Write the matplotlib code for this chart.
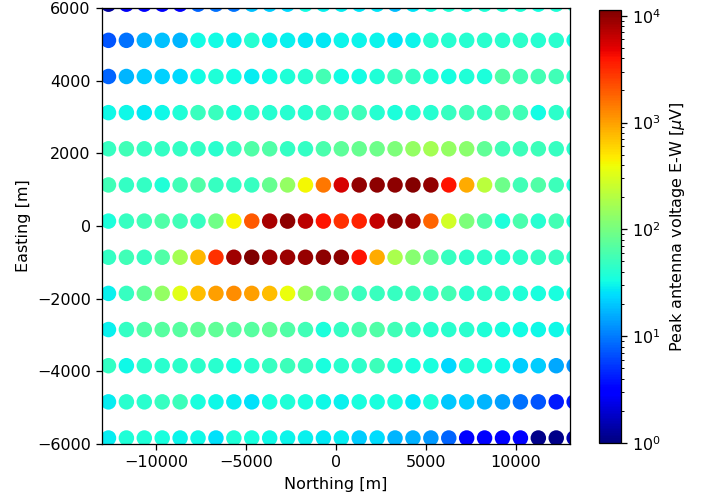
import numpy as np
import matplotlib
matplotlib.use("Agg")
import matplotlib.pyplot as plt
from matplotlib.colors import LogNorm

# Grid coordinates (m)
northing = [-12640 + 995 * k for k in range(27)]
easting = [-5835 + 995 * r for r in range(13)]

# Peak voltages [uV], one list per easting row (bottom to top)
row_m5835 = [28, 38, 38, 35, 30, 31, 25, 38, 35, 31, 30, 29, 27, 28, 21, 24, 17, 16, 13, 8, 3.3, 2.8, 2.8, 3, 1.1, 1.1, 1.5]
row_m4840 = [28, 42, 42, 48, 52, 35, 31, 28, 25, 35, 38, 35, 31, 29, 35, 35, 35, 26, 38, 20, 21, 17, 14, 9, 7, 4, 4]
row_m3845 = [46, 31, 42, 42, 44, 44, 42, 35, 42, 48, 52, 48, 35, 42, 44, 52, 38, 35, 35, 23, 38, 35, 31, 21, 21, 15, 12]
row_m2850 = [29, 46, 64, 70, 70, 78, 78, 70, 70, 78, 64, 54, 36, 47, 60, 64, 54, 46, 42, 42, 42, 38, 35, 33, 31, 31, 31]
row_m1855 = [29, 48, 78, 140, 330, 750, 1000, 1200, 1000, 750, 380, 140, 85, 78, 50, 50, 48, 52, 46, 57, 42, 44, 42, 38, 35, 35, 35]
row_m860 = [46, 54, 48, 64, 170, 800, 3000, 8500, 11000, 9000, 9000, 9200, 10000, 9800, 4000, 900, 180, 120, 78, 48, 44, 44, 40, 44, 46, 48, 42]
row_135 = [36, 48, 54, 64, 54, 48, 95, 430, 2000, 8000, 10000, 7000, 4000, 3000, 3500, 6500, 10000, 9000, 1800, 280, 110, 64, 36, 60, 40, 57, 36]
row_1130 = [54, 46, 46, 38, 54, 64, 48, 46, 48, 85, 140, 420, 1500, 5500, 9500, 10000, 10000, 10800, 9500, 4000, 900, 220, 90, 54, 64, 52, 36]
row_2125 = [48, 55, 48, 46, 46, 46, 42, 48, 66, 66, 46, 46, 60, 74, 85, 90, 110, 140, 170, 140, 125, 78, 54, 52, 52, 48, 42]
row_3120 = [31, 31, 27, 31, 38, 50, 50, 38, 44, 40, 40, 40, 48, 49, 52, 40, 36, 40, 40, 48, 54, 48, 64, 54, 33, 44, 42]
row_4115 = [8, 17, 21, 22, 23, 32, 38, 32, 28, 32, 38, 40, 57, 33, 33, 38, 50, 46, 38, 34, 38, 36, 66, 57, 57, 54, 42]
row_5110 = [7, 9, 16, 19, 17, 32, 32, 28, 40, 29, 29, 27, 27, 30, 30, 30, 26, 30, 40, 40, 40, 42, 42, 44, 40, 42, 33]
row_6105 = [1.3, 2.6, 3, 2.8, 2.8, 8, 9, 9.5, 19, 21, 23, 32, 29, 28, 26, 26, 18, 26, 34, 38, 34, 38, 38, 38, 34, 38, 36]

rows = [row_m5835, row_m4840, row_m3845, row_m2850, row_m1855, row_m860, row_135,
        row_1130, row_2125, row_3120, row_4115, row_5110, row_6105]

xs, ys, vs = [], [], []
for yv, row in zip(easting, rows):
    for xv, v in zip(northing, row):
        xs.append(xv)
        ys.append(yv)
        vs.append(v)

DPI = 115
fig = plt.figure(figsize=(705 / DPI, 498 / DPI), dpi=DPI)
ax = fig.add_axes([102 / 705, 54 / 498, 468 / 705, 436 / 498])
cax = fig.add_axes([599 / 705, 55 / 498, 22 / 705, 433 / 498])

sc = ax.scatter(xs, ys, c=vs, s=94, cmap="jet", norm=LogNorm(vmin=1, vmax=1.13e4),
                linewidths=0)
ax.set_xlim(-13000, 13000)
ax.set_ylim(-6000, 6000)
ax.set_xlabel("Northing [m]")
ax.set_ylabel("Easting [m]")

cb = fig.colorbar(sc, cax=cax)
cb.set_label(r"Peak antenna voltage E-W [$\mu$V]")

fig.savefig("out.png", dpi=DPI)
